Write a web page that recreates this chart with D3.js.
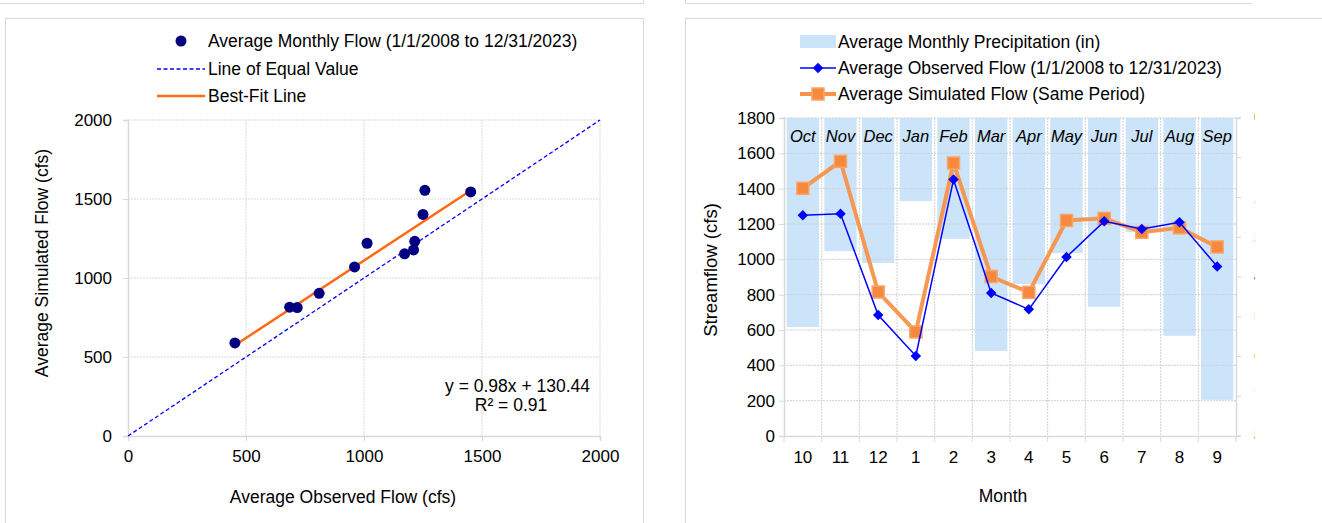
<!DOCTYPE html>
<html><head><meta charset="utf-8">
<script src="https://cdn.jsdelivr.net/npm/d3@7"></script>
<style>
html,body{margin:0;padding:0;background:#fff;}
svg{display:block;font-family:"Liberation Sans",Arial,sans-serif;}
</style></head>
<body>
<svg id="c" width="1322" height="523"></svg>
<script>
// ---------- DATA ----------
const months = ["10","11","12","1","2","3","4","5","6","7","8","9"];
const monthNames = ["Oct","Nov","Dec","Jan","Feb","Mar","Apr","May","Jun","Jul","Aug","Sep"];
const observedFlow = [1250,1258,685,453,1452,810,717,1013,1215,1172,1210,960];
const simulatedFlow = [1402,1555,815,589,1545,903,813,1220,1232,1153,1178,1070];
const precipitation = [5.26,3.35,3.65,2.09,3.04,5.86,4.18,3.40,4.75,2.87,5.48,7.09];
const scatterTicks = [0,500,1000,1500,2000];
const flowTicks = [0,200,400,600,800,1000,1200,1400,1600,1800];
const precipTicks = [0,1,2,3,4,5,6,7,8];
const fitSlope = 0.98, fitIntercept = 130.44, fitR2 = 0.91;

const svg = d3.select("#c");
const gridC = "#d9d9d9", axisC = "#d9d9d9";
const fmt = d3.format("d");

// ---------- panel frames ----------
svg.append("path").attr("d","M0,3.5H643.5V-5").attr("fill","none").attr("stroke",gridC);
svg.append("rect").attr("x",5.5).attr("y",18.5).attr("width",638).attr("height",520).attr("fill","none").attr("stroke",gridC);
svg.append("path").attr("d","M685.5,-5V3.5H1252").attr("fill","none").attr("stroke",gridC);
svg.append("rect").attr("x",685.5).attr("y",18.5).attr("width",700).attr("height",520).attr("fill","none").attr("stroke",gridC);

// ================= LEFT: scatter =================
const L = svg.append("g");
const x1 = d3.scaleLinear().domain([0,2000]).range([128,600]);
const y1 = d3.scaleLinear().domain([0,2000]).range([436,120]);

// grid
L.append("g").selectAll("line").data(scatterTicks.slice(1)).join("line")
  .attr("x1",d=>x1(d)).attr("x2",d=>x1(d)).attr("y1",y1(0)).attr("y2",y1(2000))
  .attr("stroke",gridC).attr("stroke-dasharray","2,1");
L.append("g").selectAll("line").data(scatterTicks.slice(1)).join("line")
  .attr("y1",d=>y1(d)).attr("y2",d=>y1(d)).attr("x1",x1(0)).attr("x2",x1(2000))
  .attr("stroke",gridC).attr("stroke-dasharray","2,1");

const xa1 = L.append("g").attr("transform",`translate(0,${y1(0)})`)
  .call(d3.axisBottom(x1).tickValues(scatterTicks).tickFormat(fmt).tickSize(5).tickPadding(9));
const ya1 = L.append("g").attr("transform",`translate(${x1(0)},0)`)
  .call(d3.axisLeft(y1).tickValues(scatterTicks).tickFormat(fmt).tickSize(5).tickPadding(11));
[xa1,ya1].forEach(a=>{
  a.select(".domain").attr("stroke",axisC).attr("stroke-width",1.5);
  a.selectAll(".tick line").attr("stroke",axisC);
  a.selectAll("text").attr("font-size",17).attr("fill","#000").attr("font-family","Liberation Sans, Arial, sans-serif");
});

// equal line
L.append("line").attr("x1",x1(0)).attr("y1",y1(0)).attr("x2",x1(2000)).attr("y2",y1(2000))
  .attr("stroke","#0000ff").attr("stroke-width",1.3).attr("stroke-dasharray","4,2.5");
// best-fit
const obsMin = d3.min(observedFlow), obsMax = d3.max(observedFlow);
L.append("line").attr("x1",x1(obsMin)).attr("y1",y1(fitSlope*obsMin+fitIntercept))
  .attr("x2",x1(obsMax)).attr("y2",y1(fitSlope*obsMax+fitIntercept))
  .attr("stroke","#ff6a13").attr("stroke-width",2.5);
// points
L.append("g").selectAll("circle").data(observedFlow.map((o,i)=>[o,simulatedFlow[i]])).join("circle")
  .attr("cx",d=>x1(d[0])).attr("cy",d=>y1(d[1])).attr("r",5.5).attr("fill","#000080");

// equation
L.append("text").attr("x",590).attr("y",392).attr("text-anchor","end").attr("font-size",17.5)
  .text(`y = ${fitSlope.toFixed(2)}x + ${fitIntercept.toFixed(2)}`);
L.append("text").attr("x",511).attr("y",411).attr("text-anchor","middle").attr("font-size",17.5)
  .text(`R² = ${fitR2.toFixed(2)}`);

// axis titles
L.append("text").attr("x",343).attr("y",503).attr("text-anchor","middle").attr("font-size",17.5)
  .text("Average Observed Flow (cfs)");
L.append("text").attr("transform","translate(48,263) rotate(-90)").attr("text-anchor","middle").attr("font-size",17.5)
  .text("Average Simulated  Flow (cfs)");

// legend
const lg1 = L.append("g").attr("font-size",17.5);
lg1.append("circle").attr("cx",181).attr("cy",41).attr("r",5.5).attr("fill","#000080");
lg1.append("text").attr("x",208).attr("y",41).attr("dy","0.35em").text("Average Monthly Flow (1/1/2008 to 12/31/2023)");
lg1.append("line").attr("x1",157).attr("x2",205).attr("y1",69).attr("y2",69).attr("stroke","#0000ff").attr("stroke-width",1.3).attr("stroke-dasharray","4,2.5");
lg1.append("text").attr("x",208).attr("y",69).attr("dy","0.35em").text("Line of Equal Value");
lg1.append("line").attr("x1",157).attr("x2",205).attr("y1",96).attr("y2",96).attr("stroke","#ff6a13").attr("stroke-width",2.5);
lg1.append("text").attr("x",208).attr("y",96).attr("dy","0.35em").text("Best-Fit Line");

// ================= RIGHT: monthly =================
const R = svg.append("g");
const x2 = d3.scaleBand().domain(months).range([784,1236]).paddingInner(0.14).paddingOuter(0.07);
const xb = d3.scaleBand().domain(months).range([784,1236]);
const y2 = d3.scaleLinear().domain([0,1800]).range([436,118]);
const yp = d3.scaleLinear().domain([0,8]).range([118,436]);

// bars (hanging from top)
R.append("g").selectAll("rect").data(precipitation).join("rect")
  .attr("x",(d,i)=>x2(months[i])).attr("width",x2.bandwidth())
  .attr("y",yp(0)).attr("height",d=>yp(d)-yp(0)).attr("fill","#cce4fa");

// grid
R.append("g").selectAll("line").data(flowTicks.slice(1)).join("line")
  .attr("x1",784).attr("x2",1236).attr("y1",d=>y2(d)).attr("y2",d=>y2(d))
  .attr("stroke","#d0d0d0").attr("stroke-dasharray","2,1");
R.append("g").selectAll("line").data(months.slice(1)).join("line")
  .attr("x1",d=>xb(d)).attr("x2",d=>xb(d)).attr("y1",118).attr("y2",436)
  .attr("stroke","#d0d0d0").attr("stroke-dasharray","2,1");

// month names
R.append("g").selectAll("text").data(monthNames).join("text")
  .attr("x",(d,i)=>xb(months[i])+xb.bandwidth()/2).attr("y",136).attr("dy","0.35em")
  .attr("text-anchor","middle").attr("font-size",16.5).attr("font-style","italic").text(d=>d);

// axes
const xa2 = R.append("g").attr("transform",`translate(0,${y2(0)})`)
  .call(d3.axisBottom(xb).tickSize(0).tickPadding(15));
xa2.append("g").selectAll("line").data(d3.range(13)).join("line")
  .attr("x1",i=>784+i*xb.step()).attr("x2",i=>784+i*xb.step()).attr("y1",0).attr("y2",6).attr("stroke",axisC);
const ya2 = R.append("g").attr("transform",`translate(784,0)`)
  .call(d3.axisLeft(y2).tickValues(flowTicks).tickFormat(fmt).tickSize(5).tickPadding(4));
const yp2 = R.append("g").attr("transform",`translate(1236,0)`)
  .call(d3.axisRight(yp).tickValues(precipTicks).tickFormat(fmt).tickSize(5).tickPadding(13));
[xa2,ya2,yp2].forEach(a=>{
  a.select(".domain").attr("stroke",axisC).attr("stroke-width",1.5);
  a.selectAll(".tick line").attr("stroke",axisC);
  a.selectAll("text").attr("font-size",17).attr("fill","#000").attr("font-family","Liberation Sans, Arial, sans-serif");
});
// clip right axis labels (chart is cut off at the right)
svg.append("defs").append("clipPath").attr("id","rclip").append("rect").attr("x",0).attr("y",0).attr("width",1255).attr("height",523);
yp2.attr("clip-path","url(#rclip)");
yp2.attr("transform",null).selectAll(".tick").attr("transform",d=>`translate(1236,${yp(d)})`);
yp2.select(".domain").attr("transform","translate(1236,0)");

// lines
const cx = i=>xb(months[i])+xb.bandwidth()/2;
const lineGen = d3.line().x((d,i)=>cx(i)).y(d=>y2(d));
R.append("path").datum(simulatedFlow).attr("d",lineGen).attr("fill","none")
  .attr("stroke","#f7924a").attr("stroke-width",4).attr("stroke-opacity",0.95);
R.append("g").selectAll("rect").data(simulatedFlow).join("rect")
  .attr("x",(d,i)=>cx(i)-6).attr("y",d=>y2(d)-6).attr("width",12).attr("height",12)
  .attr("fill","#f58a3e").attr("stroke","#f9a46a").attr("stroke-width",1.5);
R.append("path").datum(observedFlow).attr("d",lineGen).attr("fill","none")
  .attr("stroke","#0000ff").attr("stroke-width",1.5);
R.append("g").selectAll("path").data(observedFlow).join("path")
  .attr("transform",(d,i)=>`translate(${cx(i)},${y2(d)})`)
  .attr("d",d3.symbol(d3.symbolDiamond2,70)).attr("fill","#0000ff");

// axis titles
R.append("text").attr("x",1003).attr("y",502).attr("text-anchor","middle").attr("font-size",17.5).text("Month");
R.append("text").attr("transform","translate(717,270) rotate(-90)").attr("text-anchor","middle").attr("font-size",18.5).text("Streamflow (cfs)");

// legend
const lg2 = R.append("g").attr("font-size",17.5);
lg2.append("rect").attr("x",800).attr("y",35).attr("width",36).attr("height",13).attr("fill","#cce4fa");
lg2.append("text").attr("x",838).attr("y",42).attr("dy","0.35em").text("Average Monthly Precipitation (in)");
lg2.append("line").attr("x1",800).attr("x2",836).attr("y1",68).attr("y2",68).attr("stroke","#0000ff").attr("stroke-width",1.5);
lg2.append("path").attr("transform","translate(818,68)").attr("d",d3.symbol(d3.symbolDiamond2,70)).attr("fill","#0000ff");
lg2.append("text").attr("x",838).attr("y",68).attr("dy","0.35em").text("Average Observed Flow (1/1/2008 to 12/31/2023)");
lg2.append("line").attr("x1",800).attr("x2",836).attr("y1",94).attr("y2",94).attr("stroke","#f7924a").attr("stroke-width",4);
lg2.append("rect").attr("x",812).attr("y",88).attr("width",12).attr("height",12).attr("fill","#f58a3e").attr("stroke","#f9a46a").attr("stroke-width",1.5);
lg2.append("text").attr("x",838).attr("y",94).attr("dy","0.35em").text("Average Simulated Flow (Same Period)");
</script>
</body></html>
